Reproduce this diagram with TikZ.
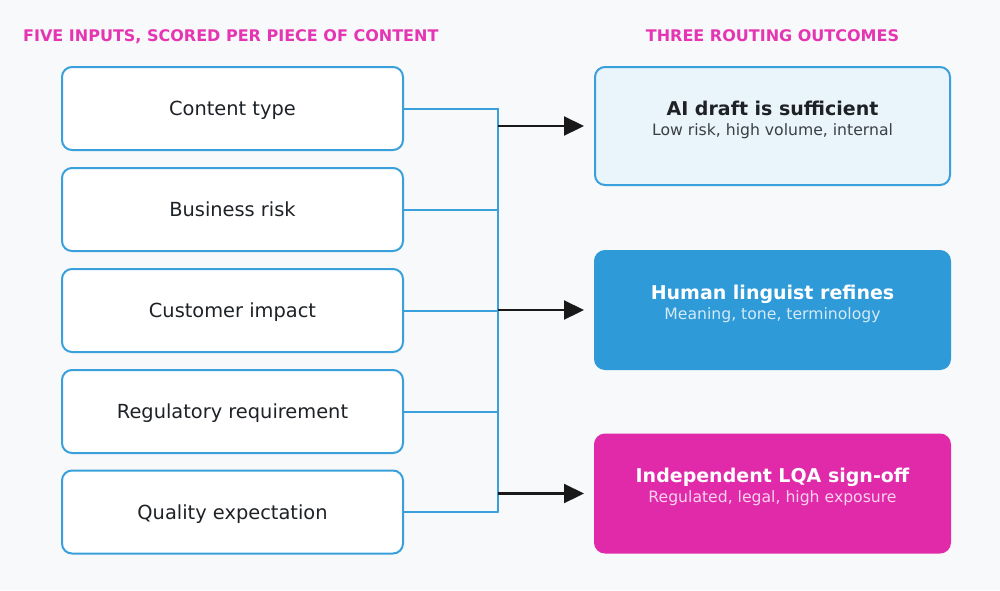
\documentclass[tikz,border=0pt]{standalone}
\usepackage{fontspec}
\setmainfont{DejaVu Sans}
\usetikzlibrary{arrows.meta}
\definecolor{bgc}{HTML}{F8F9FA}
\definecolor{bluec}{HTML}{3AA0DB}
\definecolor{bluefill}{HTML}{2E9AD8}
\definecolor{lightfill}{HTML}{EAF4FB}
\definecolor{pinkc}{HTML}{E12AAA}
\definecolor{headc}{HTML}{E535B2}
\definecolor{txt}{HTML}{1E2226}
\definecolor{subdark}{HTML}{3A3F45}
\definecolor{subblue}{HTML}{D4EAF8}
\definecolor{subpink}{HTML}{FAD2EE}
\tikzset{
  inbox/.style={draw=bluec, fill=white, line width=2pt, rounded corners=10pt,
    minimum width=341pt, minimum height=83pt, inner sep=0pt,
    text height=14.1pt, text depth=0pt, font=\fontsize{19.4}{22}\selectfont, text=txt},
  outbox/.style={line width=2pt, rounded corners=10pt,
    minimum width=355pt, minimum height=118pt, inner sep=0pt},
  ttl/.style={anchor=base, font=\bfseries\fontsize{19}{22}\selectfont, inner sep=0pt},
  sub/.style={anchor=base, font=\fontsize{15.65}{18}\selectfont, inner sep=0pt},
  head/.style={anchor=base, font=\bfseries\fontsize{16}{19}\selectfont, text=headc, inner sep=0pt},
  bus/.style={draw=bluec, line width=2pt},
  arr/.style={draw=black!90, line width=2.2pt, -{Triangle[length=20pt, width=19pt]}, shorten >=10pt}
}
\begin{document}
\begin{tikzpicture}[x=1pt, y=-1pt]
\fill[bgc] (0,0) rectangle (1000,590);
\useasboundingbox (0,0) rectangle (1000,590);

\node[head, anchor=base west] (h1) at (23,41) {FIVE INPUTS, SCORED PER PIECE OF CONTENT};
\node[head] (h2) at (772.5,41) {THREE ROUTING OUTCOMES};

\node[inbox] (in1) at (232.5,108.5) {Content type};
\node[inbox] (in2) at (232.5,209.5) {Business risk};
\node[inbox] (in3) at (232.5,310.5) {Customer impact};
\node[inbox] (in4) at (232.5,411.5) {Regulatory requirement};
\node[inbox] (in5) at (232.5,512) {Quality expectation};

\node[outbox, draw=bluec, fill=lightfill] (o1) at (772.5,126) {};
\node[outbox, draw=bluefill, fill=bluefill] (o2) at (772.5,310) {};
\node[outbox, draw=pinkc, fill=pinkc] (o3) at (772.5,493.5) {};

\node[ttl, text=txt] (t1) at ([yshift=11pt]o1.center) {AI draft is sufficient};
\node[sub, text=subdark] (s1) at ([yshift=-9pt]o1.center) {Low risk, high volume, internal};
\node[ttl, text=white] (t2) at ([yshift=11pt]o2.center) {Human linguist refines};
\node[sub, text=subblue] (s2) at ([yshift=-9pt]o2.center) {Meaning, tone, terminology};
\node[ttl, text=white] (t3) at ([yshift=11pt]o3.center) {Independent LQA sign-off};
\node[sub, text=subpink] (s3) at ([yshift=-9pt]o3.center) {Regulated, legal, high exposure};

\coordinate (bx) at (498,0);
\foreach \i in {1,...,5}{
  \draw[bus] (in\i.east) -- (in\i.east -| bx);
}
\draw[bus, line cap=round] (in1.east -| bx) -- (in5.east -| bx);

\draw[arr] (o1.west -| bx) -- (o1.west);
\draw[arr] (o2.west -| bx) -- (o2.west);
\draw[arr] (o3.west -| bx) -- (o3.west);
\end{tikzpicture}
\end{document}
